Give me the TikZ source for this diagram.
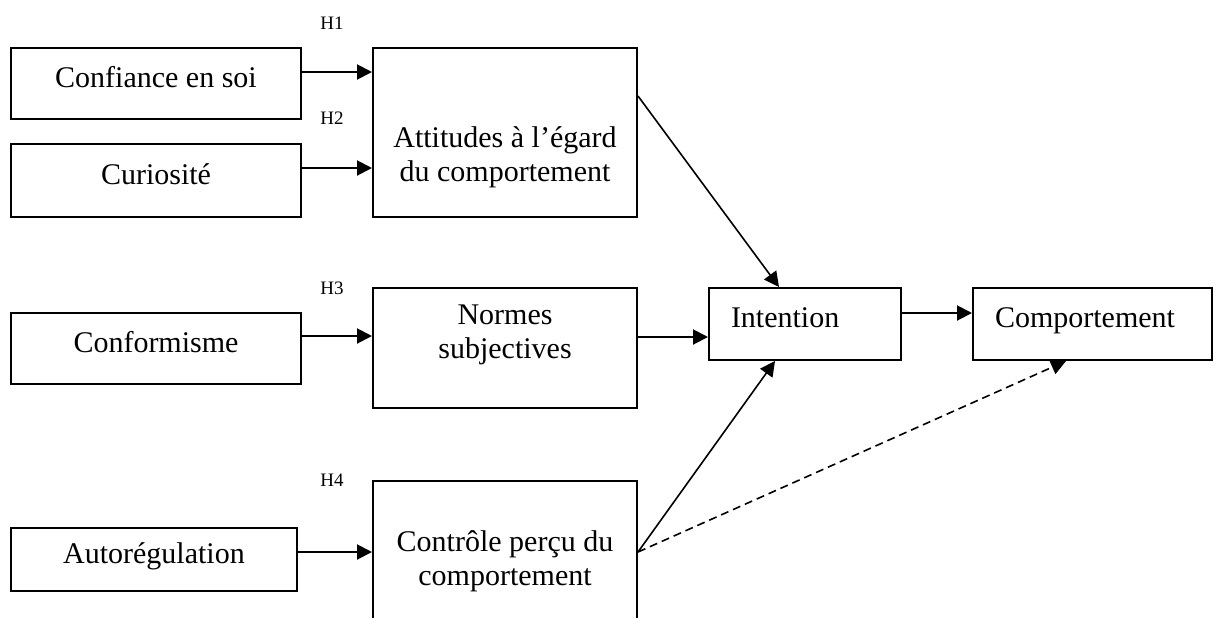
\documentclass[tikz,border=0pt]{standalone}
\usepackage{fontspec}
\setmainfont{Liberation Serif}
\usetikzlibrary{arrows.meta}

\tikzset{
  box/.style={draw, line width=1pt, rectangle, inner xsep=4pt, inner ysep=0pt, align=center,
    font=\fontsize{15}{17}\selectfont},
  oneline/.style={box, text depth=6.5pt},
  leftbox/.style={oneline, inner xsep=11pt, align=left, text width=#1},
  hyp/.style={inner sep=0pt, font=\fontsize{9.5}{11}\selectfont},
  link/.style={->, line width=1pt},
  slant/.style={->, line width=0.8pt},
}

\begin{document}
\begin{tikzpicture}[x=0.5pt,y=-0.5pt,>={Triangle[length=7.5pt,width=7.5pt]}]
  \useasboundingbox (0,0) rectangle (1221,617);
  \clip (0,0) rectangle (1221,617);

  \node[oneline, minimum width=145pt, minimum height=35.5pt] (conf) at (156,83.5) {Confiance en soi};
  \node[oneline, minimum width=145pt, minimum height=36.5pt] (curi) at (156,180.5) {Curiosité};
  \node[oneline, minimum width=145pt, minimum height=35.5pt] (confo) at (156,348.5) {Conformisme};
  \node[oneline, minimum width=143pt, minimum height=31.5pt] (auto) at (154,559.5) {Autorégulation};

  \node[box, minimum width=132pt, minimum height=84.5pt] (att) at (505,132.5)
    {\rule{0pt}{35pt}Attitudes à l’égard\\du comportement};
  \node[box, minimum width=132pt, minimum height=60pt] (norm) at (505,348)
    {Normes\\subjectives\rule[-16pt]{0pt}{0pt}};
  \node[box, minimum width=132pt, minimum height=80pt] (ctrl) at (505,561)
    {Contrôle perçu du\\comportement};

  \node[leftbox=74pt, minimum height=36pt] (inten) at (805,324) {Intention};
  \node[leftbox=97.5pt, minimum height=36pt] (comp) at (1092.5,324) {Comportement};

  \node[hyp] (h1) at (332,23) {H1};
  \node[hyp] (h2) at (332,118) {H2};
  \node[hyp] (h3) at (332,288) {H3};
  \node[hyp] (h4) at (332,480) {H4};

  \draw[link] ([yshift=5.75pt]conf.east) -- ([yshift=5.75pt]conf.east -| att.west);
  \draw[link] ([yshift=6.25pt]curi.east) -- ([yshift=6.25pt]curi.east -| att.west);
  \draw[link] ([yshift=6.25pt]confo.east) -- ([yshift=6.25pt]confo.east -| norm.west);
  \draw[link] ([yshift=3.75pt]auto.east) -- ([yshift=3.75pt]auto.east -| ctrl.west);
  \draw[link] ([yshift=5.5pt]norm.east) -- ([yshift=5.5pt]norm.east -| inten.west);
  \draw[link] ([yshift=5.5pt]inten.east) -- ([yshift=5.5pt]inten.east -| comp.west);

  \draw[slant] ([yshift=-24.5pt]att.north east) -- ([xshift=35.5pt]inten.north west);
  \draw[slant] ([yshift=4.5pt]ctrl.east) -- ([xshift=33.5pt]inten.south west);
  \draw[slant, dash pattern=on 4pt off 2.5pt] ([yshift=4.5pt]ctrl.east) -- ([xshift=47pt]comp.south west);
\end{tikzpicture}
\end{document}
